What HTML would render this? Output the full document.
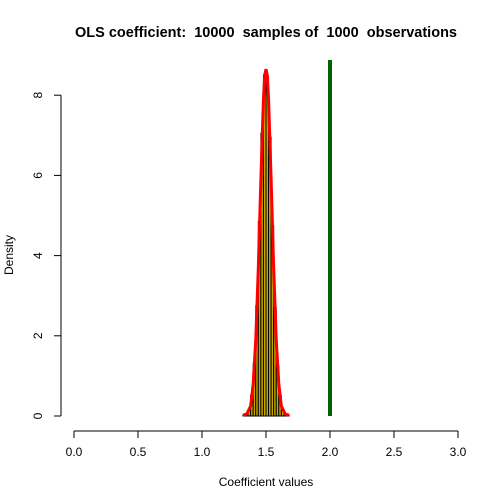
<!DOCTYPE html>
<html><head><meta charset="utf-8"><style>
body{margin:0;background:#fff}
svg{display:block;font-family:"Liberation Sans",Arial,sans-serif}
text{white-space:pre}
</style></head><body>
<svg id="c" width="504" height="504">
<text x="266" y="37" text-anchor="middle" font-weight="bold" font-size="14.5" xml:space="preserve">OLS coefficient:  10000  samples of  1000  observations</text>
<text x="266" y="486" text-anchor="middle" font-size="12">Coefficient values</text>
<text transform="translate(13,255) rotate(-90)" text-anchor="middle" font-size="12">Density</text>
<g id="axes"></g><g id="bars"></g><g id="marks"></g>
</svg>
<script>
const binStarts=[1.32,1.34,1.36,1.38,1.40,1.42,1.44,1.46,1.48,1.50,1.52,1.54,1.56,1.58,1.60,1.62,1.64,1.66];
const binDensity=[0.02,0.05,0.17,0.52,1.3,2.75,4.85,7.05,8.5,8.45,6.95,4.75,2.7,1.25,0.5,0.15,0.05,0.02];
const curveX=[1.32,1.35,1.38,1.40,1.42,1.44,1.46,1.48,1.49,1.50,1.51,1.52,1.54,1.56,1.58,1.60,1.62,1.65,1.68];
const curveY=[0.02,0.05,0.25,0.8,1.9,3.7,5.9,7.9,8.5,8.65,8.5,7.9,5.9,3.7,1.9,0.8,0.25,0.05,0.02];
const trueValue=2;
const binWidth=0.02;
const xTicks=[0,0.5,1,1.5,2,2.5,3];
const xTickLabels=["0.0","0.5","1.0","1.5","2.0","2.5","3.0"];
const yTicks=[0,2,4,6,8];
const ns="http://www.w3.org/2000/svg";
const X=v=>74+v*128, Y=v=>416-v*40.1;
function mk(p,t,a){const e=document.createElementNS(ns,t);for(const k in a)e.setAttribute(k,a[k]);p.appendChild(e);return e;}
const ax=document.getElementById('axes'),bg=document.getElementById('bars'),mg=document.getElementById('marks');
let l=mk(ax,'line',{x1:X(0),x2:X(3),y1:431,y2:431,stroke:'#000'});


xTicks.forEach((t,i)=>{
 let tk=mk(ax,'line',{x1:X(t),x2:X(t),y1:431,y2:438,stroke:'#000'});
 
 
 let tx=mk(ax,'text',{x:X(t),y:456,'text-anchor':'middle','font-size':12});
 
 
 tx.textContent=xTickLabels[i];
});
l=mk(ax,'line',{x1:61,x2:61,y1:Y(0),y2:Y(8),stroke:'#000'});


yTicks.forEach(t=>{
 let tk=mk(ax,'line',{x1:54,x2:61,y1:Y(t),y2:Y(t),stroke:'#000'});
 
 
 let tx=mk(ax,'text',{transform:`translate(42,${Y(t)}) rotate(-90)`,'text-anchor':'middle','font-size':12});
 
 
 tx.textContent=t;
});
binStarts.forEach((b,i)=>{
 const x0=X(b),x1=X(b+binWidth),y=Y(binDensity[i]);
 let r=mk(bg,'rect',{x:x0,y:y,width:x1-x0,height:Y(0)-y,fill:'#c8a800',stroke:'#000','stroke-width':1});
 
 
});
let p=mk(mg,'polyline',{points:curveX.map((x,i)=>X(x)+','+Y(curveY[i])).join(' '),fill:'none',stroke:'#ff0000','stroke-width':3});


let g=mk(mg,'line',{x1:X(trueValue),x2:X(trueValue),y1:Y(0),y2:60,stroke:'#006400','stroke-width':4});


</script>
</body></html>
